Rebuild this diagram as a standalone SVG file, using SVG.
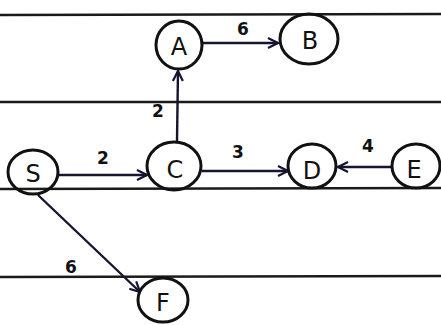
<svg xmlns="http://www.w3.org/2000/svg" width="441" height="325" viewBox="0 0 441 325">
<defs>
<style>
.rule{stroke:#1a1a1a;stroke-width:2.4}
.node ellipse{fill:none;stroke:#111;stroke-width:3}
.node text{font-family:"DejaVu Sans",sans-serif;font-size:24px;fill:#111;text-anchor:middle;dominant-baseline:central}
.edge{stroke:#151530;stroke-width:2.4;fill:none}
.lbl{font-family:"DejaVu Sans",sans-serif;font-size:17px;font-weight:bold;fill:#111;text-anchor:middle}
</style>
<marker id="arr" viewBox="0 0 12 12" refX="11" refY="6" markerWidth="12" markerHeight="12" markerUnits="userSpaceOnUse" orient="auto">
<path d="M1,1 L11,6 L1,11" fill="none" stroke="#151530" stroke-width="2.2"/>
</marker>
</defs>
<rect width="441" height="325" fill="#fff"/>
<g id="rules">
<line class="rule" x1="0" y1="15" x2="441" y2="14"/>
<line class="rule" x1="0" y1="102" x2="441" y2="102"/>
<line class="rule" x1="0" y1="189" x2="441" y2="188"/>
<line class="rule" x1="0" y1="277" x2="441" y2="276"/>
</g>
<g id="connectors">
<line class="edge" x1="58" y1="175" x2="147" y2="175" marker-end="url(#arr)"/>
<line class="edge" x1="177" y1="141" x2="178" y2="71" marker-end="url(#arr)"/>
<line class="edge" x1="203" y1="43" x2="278" y2="43" marker-end="url(#arr)"/>
<line class="edge" x1="202" y1="171" x2="288" y2="171" marker-end="url(#arr)"/>
<line class="edge" x1="392" y1="167" x2="338" y2="167" marker-end="url(#arr)"/>
<line class="edge" x1="38" y1="195" x2="140" y2="292" marker-end="url(#arr)"/>
<text class="lbl" x="103" y="164">2</text>
<text class="lbl" x="158" y="117">2</text>
<text class="lbl" x="243" y="35">6</text>
<text class="lbl" x="238" y="158">3</text>
<text class="lbl" x="368" y="152">4</text>
<text class="lbl" x="71" y="273">6</text>
</g>
<g id="node-A" class="node"><ellipse cx="179" cy="45" rx="23" ry="24"/><text x="179" y="47">A</text></g>
<g id="node-B" class="node"><ellipse cx="309" cy="39" rx="29" ry="25"/><text x="310" y="41">B</text></g>
<g id="node-S" class="node"><ellipse cx="33" cy="172" rx="25" ry="22"/><text x="33" y="174">S</text></g>
<g id="node-C" class="node"><ellipse cx="174" cy="166" rx="27" ry="24"/><text x="175" y="170">C</text></g>
<g id="node-D" class="node"><ellipse cx="312" cy="166" rx="24" ry="22"/><text x="312" y="171">D</text></g>
<g id="node-E" class="node"><ellipse cx="416" cy="166" rx="24" ry="22"/><text x="414" y="170">E</text></g>
<g id="node-F" class="node"><ellipse cx="163" cy="300" rx="25" ry="22"/><text x="163" y="303">F</text></g>
</svg>
